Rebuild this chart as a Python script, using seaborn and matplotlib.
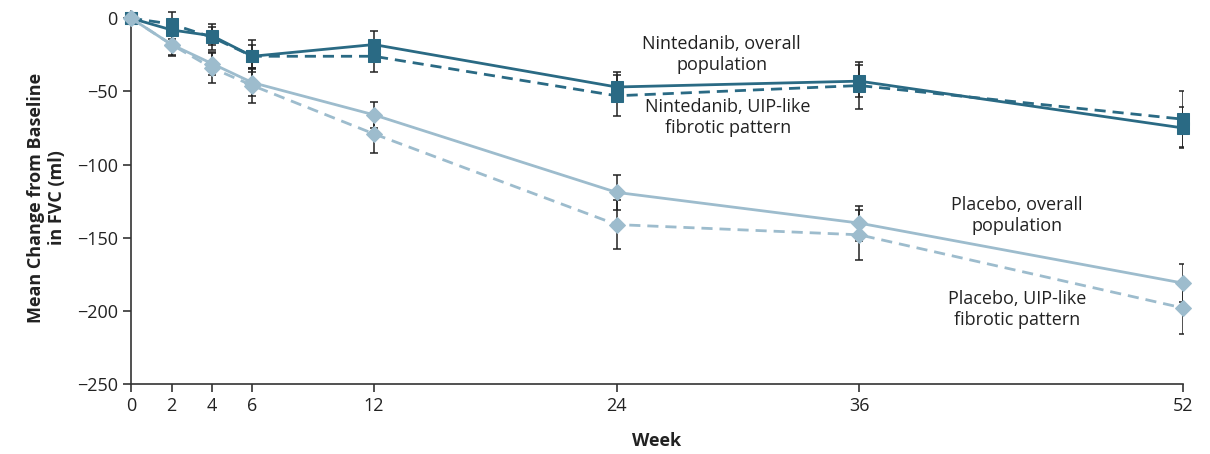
import matplotlib
matplotlib.use("Agg")
import matplotlib.pyplot as plt
import pandas as pd
import seaborn as sns

# data (ml change from baseline, +/- SE)
weeks = [0, 2, 4, 6, 12, 24, 36, 52]
nint_overall = [0, -8, -12, -26, -18, -47, -43, -75]
nint_overall_se = [0, 6, 6, 8, 9, 10, 11, 14]
nint_uip = [0, -4, -13, -26, -26, -53, -46, -69]
nint_uip_se = [0, 8, 9, 11, 11, 14, 16, 19]
plac_overall = [0, -18, -31, -44, -66, -119, -140, -181]
plac_overall_se = [0, 7, 8, 9, 9, 12, 12, 13]
plac_uip = [0, -18, -34, -46, -79, -141, -148, -198]
plac_uip_se = [0, 8, 10, 12, 13, 17, 17, 18]

dark = "#2a6a84"
light = "#9dbccd"

series = [
    ("Nintedanib", "overall", nint_overall, nint_overall_se),
    ("Nintedanib", "UIP", nint_uip, nint_uip_se),
    ("Placebo", "overall", plac_overall, plac_overall_se),
    ("Placebo", "UIP", plac_uip, plac_uip_se),
]
rows = []
for drug, pop, vals, se in series:
    for w, v, s in zip(weeks, vals, se):
        rows.append({"week": w, "change": v, "se": s, "drug": drug, "pop": pop})
df = pd.DataFrame(rows)

sns.set_style("ticks")
plt.rcParams["font.family"] = ["Open Sans", "DejaVu Sans"]

fig = plt.figure(figsize=(12.1, 4.54), dpi=100)
ax = fig.add_axes([0.1083, 0.154, 0.8694, 0.822])

# error bars first so the markers sit on top
for drug, pop, vals, se in series:
    ax.errorbar(weeks[1:], vals[1:], yerr=se[1:], fmt="none", ecolor="#222222",
                elinewidth=1.1, capsize=3, capthick=1.1, zorder=2)

palette = {"Nintedanib": dark, "Placebo": light}
for drug, pop, vals, se in series:
    sub = df[(df.drug == drug) & (df["pop"] == pop)]
    sns.lineplot(data=sub, x="week", y="change", ax=ax, color=palette[drug],
                 linewidth=2.0, linestyle="-" if pop == "overall" else (0, (4, 2.5)),
                 marker="s" if drug == "Nintedanib" else "D",
                 markersize=8 if drug == "Nintedanib" else 8.5,
                 markeredgecolor=palette[drug], clip_on=False, zorder=3,
                 legend=False)

ax.set_xlim(0, 52)
ax.set_ylim(-250, 5)
ax.set_xticks(weeks)
ax.set_yticks([0, -50, -100, -150, -200, -250])
ax.set_yticklabels(["0", "\u221250", "\u2212100", "\u2212150", "\u2212200", "\u2212250"])
ax.tick_params(labelsize=13, length=6, width=1.2, color="#333333", labelcolor="#222222")
for s in ["top", "right"]:
    ax.spines[s].set_visible(False)
for s in ["left", "bottom"]:
    ax.spines[s].set_linewidth(1.2)
    ax.spines[s].set_color("#333333")

ax.set_xlabel("Week", fontsize=13, fontweight="bold", labelpad=12, color="#222222")
ax.set_ylabel("Mean Change from Baseline\nin FVC (ml)", fontsize=13, fontweight="bold",
              labelpad=8, color="#222222")

txt = dict(fontsize=13, ha="center", va="center", color="#222222", linespacing=1.2)
ax.text(29.2, -25, "Nintedanib, overall\npopulation", **txt)
ax.text(29.5, -68, "Nintedanib, UIP-like\nfibrotic pattern", **txt)
ax.text(43.8, -135, "Placebo, overall\npopulation", **txt)
ax.text(43.8, -199, "Placebo, UIP-like\nfibrotic pattern", **txt)

fig.savefig("out.png", dpi=100)
